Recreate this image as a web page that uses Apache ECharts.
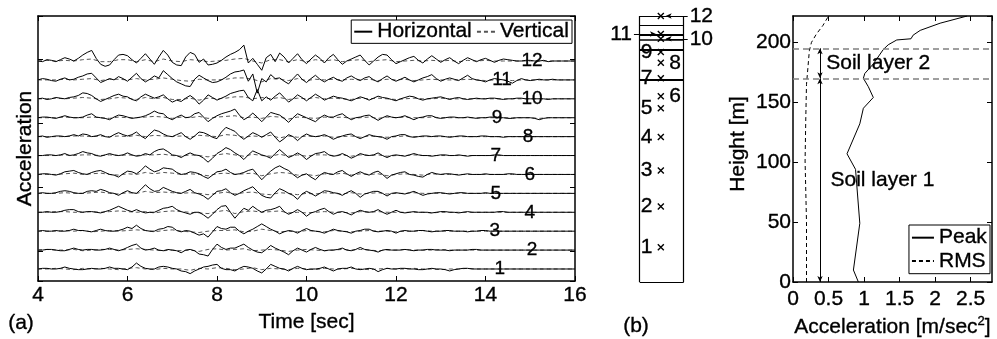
<!DOCTYPE html>
<html>
<head>
<meta charset="utf-8">
<title>Acceleration records and profile</title>
<script src="https://cdn.jsdelivr.net/npm/echarts@6/dist/echarts.min.js"></script>
<style>
  html, body { margin: 0; background: #fff; }
  #chart { width: 997px; height: 339px; }
</style>
</head>
<body>
<div id="chart"></div>
<script>
// ---------- (a) records [m/sec^2], one trace per sensor ----------
// horizontal records, 0.1 s steps (one row = one second)
const timeH = [
  4.0, 4.1, 4.2, 4.3, 4.4, 4.5, 4.6, 4.7, 4.8, 4.9,
  5.0, 5.1, 5.2, 5.3, 5.4, 5.5, 5.6, 5.7, 5.8, 5.9,
  6.0, 6.1, 6.2, 6.3, 6.4, 6.5, 6.6, 6.7, 6.8, 6.9,
  7.0, 7.1, 7.2, 7.3, 7.4, 7.5, 7.6, 7.7, 7.8, 7.9,
  8.0, 8.1, 8.2, 8.3, 8.4, 8.5, 8.6, 8.7, 8.8, 8.9,
  9.0, 9.1, 9.2, 9.3, 9.4, 9.5, 9.6, 9.7, 9.8, 9.9,
  10.0, 10.1, 10.2, 10.3, 10.4, 10.5, 10.6, 10.7, 10.8, 10.9,
  11.0, 11.1, 11.2, 11.3, 11.4, 11.5, 11.6, 11.7, 11.8, 11.9,
  12.0, 12.1, 12.2, 12.3, 12.4, 12.5, 12.6, 12.7, 12.8, 12.9,
  13.0, 13.1, 13.2, 13.3, 13.4, 13.5, 13.6, 13.7, 13.8, 13.9,
  14.0, 14.1, 14.2, 14.3, 14.4, 14.5, 14.6, 14.7, 14.8, 14.9,
  15.0, 15.1, 15.2, 15.3, 15.4, 15.5, 15.6, 15.7, 15.8, 15.9,
  16.0
];

const hor1 = [
  0.0,0.1,0.1,0.0,0.0,0.1,0.3,0.1,0.0,-0.1,
  -0.1,0.0,0.1,0.0,0.0,0.1,0.3,0.1,0.1,0.0,
  -0.1,0.3,0.9,0.4,0.1,0.0,0.0,0.3,0.4,0.3,
  0.1,0.0,-0.3,-0.4,-0.7,-0.3,0.0,0.3,0.4,0.6,
  0.7,0.1,-0.1,-0.1,-0.3,0.1,0.4,0.3,0.1,-0.3,
  -0.6,0.0,0.7,0.4,0.1,0.0,-0.3,0.1,0.4,0.1,
  -0.1,0.0,0.0,0.1,0.3,0.0,-0.3,0.0,0.1,0.1,
  0.3,0.0,-0.1,0.0,0.1,0.0,-0.4,-0.1,0.1,0.0,
  0.0,0.1,0.1,0.0,0.0,-0.1,-0.1,0.0,0.1,0.0,
  0.0,-0.1,-0.3,-0.1,0.0,0.1,0.1,0.0,0.0,0.0,
  0.0,0.0,0.0,0.0,0.0,0.0,0.0,0.0,0.0,0.0,
  0.0,0.0,0.0,0.0,0.0,0.0,0.0,0.0,0.0,0.0,
  0.0];
const hor2 = [
  0.0,0.0,0.1,0.1,0.0,-0.1,-0.1,0.1,0.3,0.1,
  0.0,0.1,0.1,0.0,0.0,0.1,0.3,0.1,-0.1,0.1,
  0.4,0.7,0.9,0.3,0.0,0.1,0.3,0.0,-0.1,0.1,
  0.0,-0.1,-0.4,0.0,0.1,-0.1,-0.6,-0.7,-0.9,0.1,
  0.9,0.4,0.1,0.3,0.3,0.6,0.9,0.4,0.0,-0.3,
  -0.4,0.1,0.7,0.3,0.0,-0.3,-0.7,-0.1,0.3,0.0,
  -0.3,0.1,0.4,0.1,-0.1,0.0,0.0,0.1,0.3,0.0,
  -0.1,0.1,0.4,0.1,0.0,-0.1,-0.3,0.0,0.1,0.0,
  0.0,0.0,0.1,0.0,-0.1,0.0,0.0,0.1,0.1,0.0,
  0.0,0.0,-0.1,0.0,0.0,0.0,0.0,0.1,0.1,0.0,
  0.0,0.0,0.0,0.0,0.0,0.0,0.0,0.0,0.0,0.0,
  0.0,0.0,0.0,0.0,0.0,0.0,0.0,0.0,0.0,0.0,
  0.0];
const hor3 = [
  0.0,0.1,0.0,0.0,0.1,0.0,0.0,0.1,0.3,0.1,
  0.1,0.0,-0.1,0.1,0.3,0.1,0.0,0.0,0.1,0.3,
  0.6,0.4,0.9,0.4,0.1,0.0,0.0,0.3,0.4,0.7,
  0.6,0.1,-0.1,0.1,0.0,-0.3,-0.6,-0.4,-0.9,-0.1,
  0.7,0.4,0.3,0.6,0.6,0.0,-0.4,0.0,0.3,0.7,
  1.1,0.7,0.3,0.0,-0.4,-0.1,0.1,0.0,-0.3,0.1,
  0.4,0.1,0.0,-0.1,-0.3,0.0,0.3,0.1,0.0,-0.1,
  -0.3,0.0,0.1,0.3,0.3,0.0,-0.1,0.0,0.1,0.0,
  -0.3,0.0,0.1,0.0,0.0,0.1,0.1,0.0,-0.1,0.0,
  0.0,0.1,0.1,0.0,0.0,0.0,-0.1,0.0,0.0,0.1,
  0.1,0.0,0.0,0.0,0.0,0.0,0.0,0.0,0.0,0.0,
  0.0,0.0,0.0,0.0,0.0,0.0,0.0,0.0,0.0,0.0,
  0.0];
const hor4 = [
  0.0,0.0,0.1,0.0,0.0,0.1,0.3,0.4,0.4,0.1,
  0.0,0.1,0.1,0.0,-0.1,0.1,0.3,0.6,0.9,0.6,
  0.3,0.1,0.4,0.1,-0.1,0.0,0.0,0.3,0.6,0.7,
  0.9,0.4,0.1,-0.1,-0.3,0.0,0.0,-0.4,-0.9,-0.3,
  0.4,0.9,1.0,0.0,-0.9,-0.1,0.6,0.3,0.9,0.4,
  0.0,0.3,0.4,0.6,0.9,0.1,-0.3,0.0,0.4,0.0,
  -0.6,-0.1,0.1,0.4,0.6,0.1,-0.3,0.0,0.1,-0.1,
  -0.4,0.0,0.3,0.1,0.0,0.1,0.4,0.0,-0.3,0.0,
  0.3,0.0,-0.1,0.0,0.1,0.0,0.0,0.0,-0.1,0.0,
  0.1,0.1,0.0,0.0,-0.1,0.0,0.1,0.0,0.0,0.0,
  0.0,0.0,0.0,0.1,0.1,0.0,0.0,0.0,0.0,0.0,
  0.0,0.0,0.0,0.0,0.0,0.0,0.0,0.0,0.0,0.0,
  0.0];
const hor5 = [
  0.0,0.1,0.0,0.0,0.1,0.3,0.4,0.3,0.1,0.0,
  0.0,0.3,0.4,0.3,0.6,0.4,0.1,0.0,-0.3,0.1,
  0.4,0.1,0.0,0.6,1.3,0.7,0.3,0.4,0.9,0.6,
  0.3,0.1,0.0,0.3,0.6,0.1,-0.1,-0.4,-0.9,-0.3,
  0.3,0.4,0.7,0.1,-0.3,0.0,0.4,0.7,1.0,0.3,
  -0.3,-0.6,-0.7,0.1,0.7,0.4,0.0,-0.3,-0.9,-0.1,
  0.3,0.0,-0.4,0.0,0.4,0.3,0.1,0.0,-0.3,0.1,
  0.4,0.0,-0.6,-0.1,0.1,0.3,0.3,0.0,-0.4,0.0,
  0.1,0.0,-0.1,0.1,0.3,0.0,-0.3,-0.1,0.0,0.1,
  0.1,0.0,-0.1,0.0,0.1,0.1,0.0,0.0,0.0,0.0,
  0.1,0.0,0.0,0.0,0.0,0.0,0.0,0.0,0.0,0.0,
  0.0,0.0,0.0,0.0,0.0,0.0,0.0,0.0,0.0,0.0,
  0.0];
const hor6 = [
  0.0,0.1,0.1,0.0,-0.1,0.1,0.4,0.5,0.6,0.3,
  0.1,0.0,0.3,0.5,0.6,0.3,0.0,-0.1,-0.4,0.1,
  0.5,0.4,0.1,0.6,1.3,0.8,0.4,0.6,1.0,0.9,
  0.8,0.3,0.0,0.1,0.4,0.3,0.1,-0.3,-0.6,-0.1,
  0.4,0.5,0.8,0.3,0.0,0.1,0.3,0.6,0.8,0.0,
  -0.8,-0.1,0.5,1.0,1.3,0.9,0.6,0.0,-0.5,-0.1,
  0.1,-0.4,-0.8,-0.1,0.3,0.1,0.0,0.4,0.6,0.1,
  -0.3,0.1,0.4,0.1,-0.1,0.3,0.5,0.0,-0.6,-0.1,
  0.1,0.3,0.4,0.0,-0.1,-0.3,-0.4,0.0,0.3,0.1,
  0.0,0.1,0.1,0.0,-0.1,0.0,0.1,0.0,0.0,0.0,
  0.1,0.0,0.0,0.0,0.0,0.1,0.1,0.0,0.0,0.0,
  0.0,0.0,0.0,0.0,0.0,0.0,0.0,0.0,0.0,0.0,
  0.0];
const hor7 = [
  0.0,0.0,0.1,0.1,0.0,0.1,0.3,0.0,0.1,0.3,
  0.6,0.4,0.3,0.0,-0.1,0.1,0.3,0.1,0.0,0.1,
  0.4,0.1,-0.1,0.0,0.3,0.1,0.6,0.9,1.0,0.6,
  0.1,0.0,-0.3,0.1,0.4,0.1,0.0,-0.4,-1.0,-0.4,
  0.3,0.7,1.2,0.9,0.4,0.0,-0.6,0.1,0.7,0.4,
  0.1,-0.1,-0.4,0.3,0.9,0.3,-0.3,0.0,0.4,0.0,
  -0.6,-0.1,0.3,0.4,0.6,0.1,-0.1,0.0,0.3,0.0,
  -0.4,-0.1,0.3,0.1,0.0,0.1,0.4,0.0,-0.3,0.0,
  0.1,0.0,-0.1,0.1,0.3,0.1,0.0,0.0,-0.1,0.0,
  0.1,0.1,0.0,0.0,0.1,0.0,-0.1,0.0,0.0,0.0,
  0.0,0.0,0.1,0.1,0.0,0.0,0.0,0.0,0.0,0.0,
  0.0,0.0,0.0,0.0,0.0,0.0,0.0,0.0,0.0,0.0,
  0.0];
const hor8 = [
  0.0,0.1,-0.1,0.0,0.1,0.1,0.0,0.1,0.3,0.1,
  0.4,0.3,0.0,0.1,0.3,0.0,-0.1,0.3,0.6,0.3,
  0.1,0.3,0.7,0.1,-0.3,0.4,1.0,0.8,0.4,0.1,
  0.0,0.3,0.6,0.0,-0.4,0.1,0.7,0.6,0.3,-0.1,
  -0.3,0.7,1.4,1.1,0.8,0.1,-0.4,0.1,0.6,0.3,
  -0.1,0.3,0.7,-0.1,-0.8,-0.3,0.3,0.0,-0.6,0.0,
  0.4,0.1,0.0,0.1,0.3,0.0,-0.4,-0.1,0.1,0.3,
  0.4,0.0,-0.3,0.0,0.3,0.1,0.0,-0.1,-0.4,0.0,
  0.1,0.3,0.3,0.0,-0.1,0.0,0.1,0.1,0.0,0.1,
  0.1,0.0,-0.1,0.0,0.1,0.1,0.0,0.0,0.0,0.1,
  0.1,0.0,0.0,0.0,-0.1,0.0,0.0,0.0,0.0,0.0,
  0.0,0.0,0.0,0.0,0.0,0.0,0.0,0.0,0.0,0.0,
  0.0];
const hor9 = [
  0.0,0.1,0.1,0.0,-0.1,0.1,0.3,0.1,0.0,0.0,
  0.1,0.4,0.6,0.1,0.0,-0.1,-0.3,0.1,0.4,0.3,
  0.1,-0.1,0.0,0.1,0.3,0.6,1.0,0.7,0.6,0.0,
  -0.3,0.1,0.4,0.0,0.1,0.6,0.8,0.1,-0.6,-0.1,
  0.3,0.6,0.8,1.0,1.3,0.4,-0.3,0.1,0.7,0.1,
  -0.6,0.1,0.8,0.6,0.4,-0.1,-0.7,0.0,0.6,0.3,
  0.0,-0.3,-0.6,0.0,0.4,0.1,0.1,0.4,0.6,0.1,
  -0.3,0.0,0.1,0.3,0.4,0.0,-0.4,0.0,0.3,0.1,
  0.0,0.1,0.3,0.0,-0.3,0.0,0.1,0.3,0.3,0.0,
  -0.1,0.0,0.1,0.1,0.0,0.0,0.1,0.0,-0.1,0.0,
  0.0,0.1,0.1,0.0,0.0,-0.1,-0.1,0.0,0.0,0.0,
  0.0,-0.1,-0.3,-0.1,0.0,0.0,0.0,0.0,0.0,0.0,
  0.0];
const hor10 = [
  0.0,0.1,-0.1,0.0,0.2,0.1,0.0,0.2,0.3,0.5,
  0.9,0.8,0.5,0.0,-0.4,-0.1,0.2,0.5,0.7,0.4,
  0.3,-0.1,-0.3,0.3,0.7,0.4,0.1,0.3,0.6,0.0,
  -0.5,-0.2,-0.4,0.1,0.5,0.0,-0.8,-0.2,0.6,0.2,
  -0.2,0.1,0.4,0.8,1.0,1.2,1.3,0.2,-0.3,1.4,
  -0.3,0.3,-0.2,0.4,0.9,0.2,-0.5,0.0,0.6,0.2,
  -0.3,0.2,0.7,0.3,-0.2,0.1,0.4,0.2,0.1,-0.1,
  -0.3,0.0,0.3,0.1,-0.2,0.1,0.4,0.2,0.1,-0.1,
  -0.3,0.0,0.2,0.4,0.3,0.0,-0.2,0.0,0.1,0.2,
  0.3,0.1,-0.1,0.1,0.2,0.0,-0.1,0.0,0.1,0.0,
  0.0,0.1,0.1,0.0,-0.1,0.0,0.0,0.1,0.1,0.0,
  0.0,0.0,0.0,0.0,-0.1,0.0,0.0,0.0,0.0,0.0,
  0.0];
const hor11 = [
  0.0,0.2,0.1,-0.1,-0.2,0.1,0.3,0.0,0.1,0.4,
  0.6,0.9,1.0,0.3,-0.4,-0.1,0.2,0.0,0.5,0.2,
  -0.2,0.4,1.0,0.2,-0.3,0.1,0.6,0.3,1.4,0.8,
  0.2,-0.3,-0.6,-0.9,-1.0,0.1,0.7,0.3,-0.1,-0.4,
  -0.3,0.0,0.4,0.9,1.2,1.3,1.5,-0.2,0.9,-2.0,
  0.2,-0.3,0.8,0.2,0.3,-0.2,-0.6,0.2,0.9,0.1,
  -0.4,0.2,0.7,0.1,-0.3,0.1,0.4,0.0,-0.2,0.3,
  0.6,0.2,-0.1,0.3,0.5,0.0,-0.3,0.2,0.6,0.1,
  -0.2,0.1,0.4,0.0,-0.3,0.0,0.3,0.5,0.8,0.2,
  -0.2,0.1,0.3,0.1,-0.1,0.3,0.7,0.2,0.0,-0.1,
  -0.3,0.0,0.2,0.1,0.0,-0.2,-0.5,-0.1,0.2,0.0,
  -0.1,0.0,0.1,0.0,0.0,0.1,0.0,0.0,0.0,0.0,
  0.0];
const hor12 = [
  0.0,-0.1,0.2,0.1,-0.1,0.2,0.5,0.3,0.0,0.4,
  0.9,1.3,1.6,0.4,-0.5,-0.8,-0.6,0.2,0.9,1.0,
  0.8,0.2,-0.3,0.4,1.1,0.3,-0.5,0.6,1.6,0.9,
  -0.2,-0.6,-0.7,0.6,1.3,1.0,-0.2,0.3,-0.6,-0.5,
  -0.3,0.1,0.6,1.0,1.3,1.7,2.4,-0.3,0.4,-0.5,
  -1.4,0.5,1.0,-0.1,1.2,0.6,-0.3,0.4,1.1,0.2,
  -0.4,0.3,0.9,0.4,-0.3,0.5,1.0,0.2,-0.5,0.0,
  0.3,0.6,0.9,0.1,-0.6,0.0,0.6,1.0,0.9,0.2,
  -0.4,-0.1,0.2,0.5,0.7,0.1,-0.3,0.3,0.8,0.3,
  -0.2,0.2,0.5,0.0,-0.4,0.1,0.5,0.2,-0.1,0.2,
  0.4,0.1,-0.2,0.1,0.3,0.2,0.1,0.0,0.0,0.1,
  0.1,0.0,0.0,0.1,-0.1,0.0,0.0,0.0,0.0,0.0,
  0.0];

// vertical records, 0.2 s steps
const timeV = [
  4.0, 4.2, 4.4, 4.6, 4.8, 5.0, 5.2, 5.4, 5.6, 5.8,
  6.0, 6.2, 6.4, 6.6, 6.8, 7.0, 7.2, 7.4, 7.6, 7.8,
  8.0, 8.2, 8.4, 8.6, 8.8, 9.0, 9.2, 9.4, 9.6, 9.8,
  10.0, 10.2, 10.4, 10.6, 10.8, 11.0, 11.2, 11.4, 11.6, 11.8,
  12.0, 12.2, 12.4, 12.6, 12.8, 13.0, 13.2, 13.4, 13.6, 13.8,
  14.0, 14.2, 14.4, 14.6, 14.8, 15.0, 15.2, 15.4, 15.6, 15.8,
  16.0
];
const ver1 = [
  0.0,0.0,0.1,0.0,-0.1,0.1,0.0,0.1,0.0,-0.1,
  0.1,0.2,0.0,-0.1,0.1,0.0,0.0,-0.2,0.1,0.0,
  0.2,0.1,-0.1,0.0,0.2,-0.1,0.1,0.0,-0.1,0.1,
  0.0,-0.1,0.1,0.0,0.0,0.1,0.0,-0.1,0.0,0.1,
  0.0,0.0,0.1,0.0,0.0,-0.1,0.0,0.0,0.1,0.0,
  0.0,0.0,0.0,0.0,0.0,0.0,0.0,0.0,0.0,0.0,0.0];
const ver2 = [
  0.0,0.1,0.0,0.0,0.1,-0.1,0.0,0.1,0.1,0.0,
  0.1,0.2,0.1,0.0,-0.1,0.0,-0.1,0.0,-0.2,0.1,
  0.2,0.0,0.1,0.2,-0.1,0.0,0.1,0.0,-0.2,0.0,
  0.1,0.0,-0.1,0.0,0.1,0.0,0.1,0.0,-0.1,0.0,
  0.0,0.1,0.0,0.0,0.0,0.1,0.0,0.0,0.0,0.0,
  0.0,0.0,0.0,0.0,0.0,0.0,0.0,0.0,0.0,0.0,0.0];
const ver3 = [
  0.0,0.0,0.0,0.1,0.0,0.1,-0.1,0.0,0.1,0.0,
  0.1,0.2,0.1,-0.1,0.1,0.2,0.0,-0.1,-0.2,0.0,
  0.1,0.1,0.2,-0.1,0.0,0.3,0.1,-0.1,0.0,-0.1,
  0.1,0.0,-0.1,0.1,0.0,-0.1,0.0,0.1,0.0,0.0,
  -0.1,0.0,0.0,0.1,0.0,0.0,0.0,0.0,0.0,0.0,
  0.0,0.0,0.0,0.0,0.0,0.0,0.0,0.0,0.0,0.0,0.0];
const ver4 = [
  0.0,0.0,0.1,0.1,0.0,0.0,0.1,0.0,0.1,0.2,
  0.1,0.0,0.1,-0.1,0.1,0.2,0.1,0.0,-0.1,-0.2,
  0.1,0.3,-0.2,0.1,0.2,0.0,0.1,0.2,-0.1,0.0,
  -0.1,0.0,0.1,0.0,0.0,-0.1,0.1,0.0,0.1,0.0,
  0.0,0.0,0.0,0.0,-0.1,0.0,0.0,0.0,0.0,0.0,
  0.0,0.0,0.0,0.0,0.0,0.0,0.0,0.0,0.0,0.0,0.0];
const ver5 = [
  0.0,0.0,0.0,0.1,0.0,0.0,0.1,0.2,0.0,-0.1,
  0.1,0.0,0.3,0.1,0.2,0.1,0.0,0.1,0.0,-0.2,
  0.0,0.2,-0.1,0.1,0.2,-0.1,-0.2,0.1,0.0,-0.2,
  0.0,-0.1,0.1,0.0,-0.1,0.1,-0.1,0.0,0.1,-0.1,
  0.0,0.0,0.1,0.0,0.0,0.0,0.0,0.0,0.0,0.0,
  0.0,0.0,0.0,0.0,0.0,0.0,0.0,0.0,0.0,0.0,0.0];
const ver6 = [
  0.0,0.0,0.0,0.1,0.2,0.0,0.1,0.2,0.0,-0.1,
  0.1,0.0,0.3,0.1,0.3,0.2,0.0,0.1,0.0,-0.2,
  0.1,0.2,0.0,0.1,0.2,-0.2,0.1,0.3,0.2,-0.1,
  0.0,-0.2,0.1,0.0,0.2,-0.1,0.1,0.0,0.1,-0.2,
  0.0,0.1,0.0,-0.1,0.1,0.0,0.0,0.0,0.0,0.0,
  0.0,0.0,0.0,0.0,0.0,0.0,0.0,0.0,0.0,0.0,0.0];
const ver7 = [
  0.0,0.0,0.0,0.1,0.0,0.1,0.1,0.0,0.1,0.0,
  0.1,0.0,0.1,0.1,0.2,0.0,-0.1,0.1,0.0,-0.2,
  0.1,0.3,0.1,-0.1,0.2,0.0,-0.1,0.2,-0.1,0.1,
  -0.1,0.1,0.1,0.0,0.1,-0.1,0.1,0.0,0.1,-0.1,
  0.0,0.0,0.1,0.0,0.0,0.0,0.0,0.0,0.0,0.0,
  0.0,0.0,0.0,0.0,0.0,0.0,0.0,0.0,0.0,0.0,0.0];
const ver8 = [
  0.0,0.0,0.0,0.0,0.1,0.1,0.0,0.1,0.0,0.1,
  0.0,0.2,0.0,0.2,0.1,0.0,0.1,-0.1,0.2,0.1,
  0.0,0.3,0.2,-0.1,0.1,0.0,0.2,-0.2,0.1,-0.1,
  0.1,0.0,0.1,-0.1,0.0,0.1,-0.1,0.1,0.0,-0.1,
  0.0,0.1,0.0,0.0,0.0,0.0,0.0,0.0,0.0,0.0,
  0.0,0.0,0.0,0.0,0.0,0.0,0.0,0.0,0.0,0.0,0.0];
const ver9 = [
  0.0,0.0,0.0,0.1,0.0,0.0,0.1,0.0,-0.1,0.1,
  0.0,0.0,0.1,0.2,0.1,-0.1,0.1,0.0,0.2,-0.1,
  0.1,0.2,0.3,0.0,0.1,-0.1,0.2,0.1,-0.2,0.1,
  0.0,-0.1,0.1,0.0,0.1,-0.1,0.0,0.1,-0.1,0.1,
  0.0,0.1,0.0,0.0,0.1,0.0,0.0,0.0,0.0,0.0,
  0.0,0.0,0.0,0.0,0.0,0.0,-0.1,0.0,0.0,0.0,0.0];
const ver10 = [
  0.0,0.0,0.1,0.0,0.1,0.2,0.1,-0.1,0.0,0.2,
  0.1,-0.1,0.2,0.0,0.2,-0.1,-0.1,0.1,-0.2,0.1,
  0.0,0.1,0.3,0.3,0.0,0.2,0.0,0.2,-0.1,0.1,
  0.0,0.2,0.0,0.1,0.0,-0.1,0.1,0.0,0.1,0.0,
  -0.1,0.0,0.1,0.0,0.0,0.1,0.0,0.0,0.0,0.0,
  0.0,0.0,0.0,0.0,0.0,0.0,0.0,0.0,0.0,0.0,0.0];
const ver11 = [
  0.0,0.0,0.0,0.1,0.0,0.1,0.2,-0.1,0.1,0.1,
  0.0,0.2,0.0,0.1,0.3,0.1,-0.1,-0.2,0.1,0.0,
  0.0,0.1,0.3,0.3,0.1,-0.3,0.2,0.1,-0.1,0.2,
  -0.1,0.1,0.0,0.1,0.0,0.1,0.0,0.1,-0.1,0.1,
  0.0,0.1,-0.1,0.0,0.1,0.0,0.0,0.0,0.1,0.0,
  -0.1,0.0,0.0,-0.1,0.0,0.0,0.0,0.0,0.0,0.0,0.0];
const ver12 = [
  0.0,0.1,0.0,0.1,0.0,0.2,0.3,-0.1,-0.1,0.2,
  0.2,-0.1,0.2,-0.1,0.3,0.0,-0.1,0.2,0.1,-0.1,
  0.0,0.1,0.3,0.4,0.0,-0.3,0.2,0.2,-0.1,0.2,
  -0.1,0.2,0.0,0.2,-0.1,0.1,0.2,-0.1,0.1,0.2,
  -0.1,0.0,0.1,0.0,0.1,0.0,0.1,-0.1,0.1,0.0,
  0.1,0.0,0.0,0.0,0.0,0.0,0.0,0.0,0.0,0.0,0.0];

const horizontal = [hor1, hor2, hor3, hor4, hor5, hor6, hor7, hor8, hor9, hor10, hor11, hor12];
const vertical = [ver1, ver2, ver3, ver4, ver5, ver6, ver7, ver8, ver9, ver10, ver11, ver12];
// time at which each sensor number is written on its trace
const traceLabelTime = [14.32, 15.04, 14.21, 14.99, 14.23, 14.99, 14.23, 14.95, 14.26, 15.04, 14.37, 15.04];

// ---------- (b) sensor column [m] ----------
const sensorHeights = [29, 63, 93, 121, 145, 155, 170, 183, 192, 203, 207, 222];
const floorHeights = [214, 206, 202, 194, 169];

// ---------- (c) acceleration profile ----------
const peakHeight = [0, 10, 49, 94, 107, 132, 145, 154, 163, 170, 174, 182, 194, 198, 202, 203, 206, 210, 216, 222];
const peakAcc = [0.92, 0.85, 0.94, 0.88, 0.76, 0.94, 0.99, 1.13, 1.06, 0.99, 1.01, 1.13, 1.27, 1.34, 1.46, 1.66, 1.69, 1.79, 2.07, 2.45];
const rmsHeight = [0, 50, 101, 137, 165, 179, 193, 200, 207, 214, 222];
const rmsAcc = [0.19, 0.19, 0.17, 0.18, 0.19, 0.21, 0.23, 0.26, 0.33, 0.42, 0.50];
const layerNames = ['Soil layer 1', 'Soil layer 2'];
const layerBottoms = [0, 170];
const layerTops = [170, 195];

// ---------- layout / style ----------
const FONT = '"Liberation Sans", Arial, Helvetica, sans-serif';
const INK = '#000';
const traceGain = 0.35;   // trace spacings per m/sec^2
const crossX = 0.48;      // column runs 0..1 in (b)
const arrowX = 0.38;      // layer arrows in (c)
const layerLabelX = [0.52, 0.46];
const floorWidths = [1, 2, 1.5, 2, 2];
const labelPlace = ['left', 'left', 'left', 'left', 'left', 'right', 'left', 'right', 'left', 'leadRight', 'leadLeft', 'leadRight'];
const columnTop = Math.max(...sensorHeights);

// slightly heavier glyphs, like the printed figure
const txt = (size) => ({ color: INK, fontSize: size, fontFamily: FONT, textBorderColor: INK, textBorderWidth: 0.35 });
const boxLine = { show: true, onZero: false, lineStyle: { color: INK, width: 1.5 } };
const tickIn = { show: true, inside: true, length: 5, lineStyle: { color: INK, width: 1 } };

const chart = echarts.init(document.getElementById('chart'));

const series = [];
for (let k = 0; k < 12; k++) {
  series.push({
    name: 'Horizontal', type: 'line', xAxisIndex: 0, yAxisIndex: 0,
    data: timeH.map((t, i) => [t, k + 1 + horizontal[k][i] * traceGain]),
    symbol: 'none', silent: true, z: 3,
    itemStyle: { color: INK },
    lineStyle: { color: INK, width: 1 }
  });
  series.push({
    name: 'Vertical', type: 'line', xAxisIndex: 0, yAxisIndex: 0,
    data: timeV.map((t, i) => [t, k + 1 + vertical[k][i] * traceGain]),
    symbol: 'none', silent: true, z: 2,
    itemStyle: { color: '#555' },
    lineStyle: { color: '#555', width: 1, type: [4, 3] }
  });
}
series.push({
  type: 'scatter', xAxisIndex: 0, yAxisIndex: 0, symbolSize: 1, silent: true, z: 5,
  itemStyle: { color: 'transparent', opacity: 1 },
  data: traceLabelTime.map((t, k) => ({ value: [t, k + 1], name: String(k + 1) })),
  label: Object.assign({ show: true, position: 'inside', formatter: p => p.name }, txt(19))
});

// (b) column outline, floors, sensor marks and leader arrows
const seg = (y, w) => [
  { coord: [0, y], lineStyle: { color: INK, width: w, type: 'solid' } },
  { coord: [1, y] }
];
const leaders = [];
sensorHeights.forEach((h, i) => {
  if (!labelPlace[i].startsWith('lead')) return;
  const dir = labelPlace[i] === 'leadRight' ? 1 : -1;
  leaders.push([
    { coord: [crossX + dir * 0.61, h], symbol: 'none',
      label: Object.assign({ show: true, position: 'start', distance: 2, formatter: String(i + 1) }, txt(21)),
      lineStyle: { color: INK, width: 1, type: 'solid' } },
    { coord: [crossX + dir * 0.11, h], symbol: 'arrow', symbolSize: [4, 6] }
  ]);
});
series.push({
  type: 'scatter', xAxisIndex: 2, yAxisIndex: 3, clip: false, silent: true,
  symbol: 'path://M0,0L10,10M10,0L0,10', symbolSize: 6,
  itemStyle: { color: 'none', borderColor: INK, borderWidth: 1.4, opacity: 1 },
  data: sensorHeights.map((h, i) => ({
    value: [crossX, h],
    label: labelPlace[i].startsWith('lead')
      ? { show: false }
      : { show: true, position: labelPlace[i], distance: 3, formatter: String(i + 1) }
  })),
  label: txt(21),
  markLine: {
    silent: true, animation: false, symbol: ['none', 'none'], label: { show: false },
    data: [
      { xAxis: 0, lineStyle: { color: INK, width: 1.2, type: 'solid' } },
      { xAxis: 1, lineStyle: { color: INK, width: 1.2, type: 'solid' } },
      seg(0, 1.2), seg(columnTop, 1.2)
    ].concat(floorHeights.map((h, i) => seg(h, floorWidths[i]))).concat(leaders)
  }
});

// (c) profiles
series.push({
  name: 'Peak', type: 'line', xAxisIndex: 3, yAxisIndex: 4, symbol: 'none', silent: true,
  data: peakHeight.map((h, i) => [peakAcc[i], h]),
  itemStyle: { color: INK },
  lineStyle: { color: INK, width: 1 }
});
series.push({
  name: 'RMS', type: 'line', xAxisIndex: 3, yAxisIndex: 4, symbol: 'none', silent: true,
  data: rmsHeight.map((h, i) => [rmsAcc[i], h]),
  itemStyle: { color: INK },
  lineStyle: { color: INK, width: 1, type: [4, 3] }
});
series.push({
  type: 'scatter', xAxisIndex: 3, yAxisIndex: 4, symbolSize: 1, clip: false, silent: true,
  itemStyle: { color: 'transparent', opacity: 1 },
  data: layerNames.map((n, i) => ({ value: [layerLabelX[i], (layerBottoms[i] + layerTops[i]) / 2], name: n })),
  label: Object.assign({ show: true, position: 'right', distance: 0, formatter: p => p.name }, txt(21)),
  markLine: {
    silent: true, animation: false, symbol: ['none', 'none'], label: { show: false },
    data: layerTops.map(h => ({ yAxis: h, lineStyle: { color: '#808080', width: 1.5, type: [6, 4] } }))
      .concat(layerTops.map((h, i) => [
        { coord: [arrowX, layerBottoms[i]], symbol: 'arrow', symbolSize: [4, 6], lineStyle: { color: INK, width: 1, type: 'solid' } },
        { coord: [arrowX, h], symbol: 'arrow', symbolSize: [4, 6] }
      ]))
  }
});

const legendBase = {
  borderColor: INK, borderWidth: 1, backgroundColor: '#fff', selectedMode: false,
  itemHeight: 10, itemStyle: { opacity: 0 }, textStyle: txt(21)
};

const option = {
  animation: false,
  backgroundColor: '#fff',
  textStyle: { fontFamily: FONT, color: INK },
  grid: [
    { left: 38, top: 16, width: 537, height: 265, outerBoundsMode: 'none' },
    { left: 600, top: 16, width: 130, height: 266, outerBoundsMode: 'none' },
    { left: 793, top: 16, width: 199, height: 266, outerBoundsMode: 'none' }
  ],
  xAxis: [
    { gridIndex: 0, type: 'value', min: 4, max: 16, interval: 2, position: 'bottom',
      axisLine: boxLine, axisTick: tickIn, splitLine: { show: false },
      axisLabel: Object.assign({ margin: 4 }, txt(21)),
      name: 'Time [sec]', nameLocation: 'middle', nameGap: 28, nameTextStyle: txt(21) },
    { gridIndex: 0, type: 'value', min: 4, max: 16, interval: 2, position: 'top',
      axisLine: boxLine, axisTick: tickIn, splitLine: { show: false }, axisLabel: { show: false } },
    { gridIndex: 1, type: 'value', min: -0.9, max: 2.05, show: false },
    { gridIndex: 2, type: 'value', min: 0, max: 2.8, interval: 0.5, position: 'bottom',
      axisLine: boxLine, axisTick: tickIn, splitLine: { show: false },
      axisLabel: Object.assign({ margin: 7, showMaxLabel: false }, txt(21)),
      name: 'Acceleration [m/sec{sup|2}]', nameLocation: 'middle', nameGap: 32,
      nameTextStyle: Object.assign({
        rich: { sup: Object.assign({ verticalAlign: 'top', padding: [0, 0, 10, 0] }, txt(13)) }
      }, txt(21)) },
    { gridIndex: 2, type: 'value', min: 0, max: 2.8, interval: 0.5, position: 'top',
      axisLine: boxLine, axisTick: tickIn, splitLine: { show: false }, axisLabel: { show: false } }
  ],
  yAxis: [
    { gridIndex: 0, type: 'value', min: 0.365, max: 14.38, show: false },
    { gridIndex: 0, type: 'value', min: -0.469, max: 3.672, splitNumber: 4, position: 'left',
      axisLine: boxLine, axisTick: tickIn, splitLine: { show: false }, axisLabel: { show: false },
      name: 'Acceleration', nameLocation: 'middle', nameGap: 2, nameTextStyle: txt(21) },
    { gridIndex: 0, type: 'value', min: -0.469, max: 3.672, splitNumber: 4, position: 'right',
      axisLine: boxLine, axisTick: tickIn, splitLine: { show: false }, axisLabel: { show: false } },
    { gridIndex: 1, type: 'value', min: 0, max: 222, show: false },
    { gridIndex: 2, type: 'value', min: 0, max: 222, interval: 50, position: 'left',
      axisLine: boxLine, axisTick: tickIn, splitLine: { show: false },
      axisLabel: Object.assign({ margin: 2, showMaxLabel: false }, txt(21)),
      name: 'Height [m]', nameLocation: 'middle', nameGap: 44,
      nameTextStyle: Object.assign({ padding: [0, 0, 0, 10] }, txt(21)) },
    { gridIndex: 2, type: 'value', min: 0, max: 222, interval: 50, position: 'right',
      axisLine: boxLine, axisTick: tickIn, splitLine: { show: false }, axisLabel: { show: false } }
  ],
  legend: [
    Object.assign({ data: ['Horizontal', 'Vertical'], right: 425, top: 20, orient: 'horizontal',
      itemWidth: 18, itemGap: 4, padding: [1, 3, 1, 2] }, legendBase),
    Object.assign({ data: ['Peak', 'RMS'], right: 7, top: 225, orient: 'vertical',
      itemWidth: 22, itemGap: 2, padding: [2, 3, 2, 2] }, legendBase)
  ],
  graphic: [
    { type: 'text', x: 21, y: 323, silent: true,
      style: { text: '(a)', fill: INK, stroke: INK, lineWidth: 0.35, fontSize: 21, fontFamily: FONT, align: 'center', verticalAlign: 'middle' } },
    { type: 'text', x: 636, y: 326, silent: true,
      style: { text: '(b)', fill: INK, stroke: INK, lineWidth: 0.35, fontSize: 21, fontFamily: FONT, align: 'center', verticalAlign: 'middle' } }
  ],
  series: series
};

chart.setOption(option);
window.addEventListener('resize', () => chart.resize());
</script>
</body>
</html>
